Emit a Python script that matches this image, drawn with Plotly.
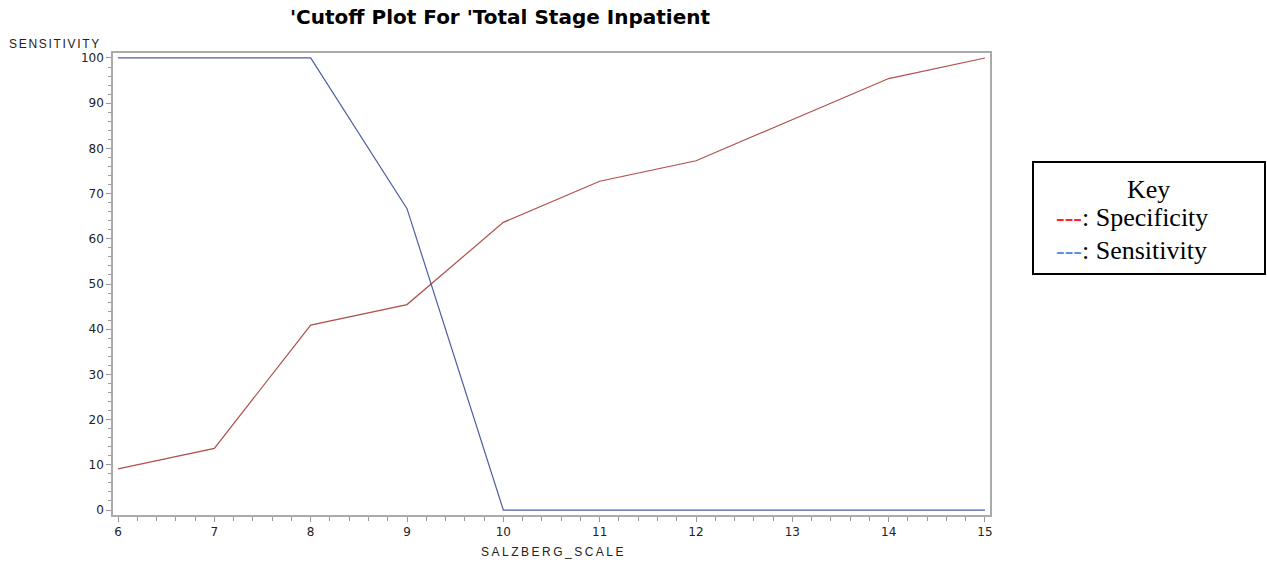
import plotly.graph_objects as go

cutoffs = [6, 7, 8, 9, 10, 11, 12, 13, 14, 15]
specificity = [9.09, 13.64, 40.91, 45.45, 63.64, 72.73, 77.27, 86.36, 95.45, 100.0]
sensitivity = [100, 100, 100, 66.67, 0, 0, 0, 0, 0, 0]
y_ticks = [0, 10, 20, 30, 40, 50, 60, 70, 80, 90, 100]

W, H = 1267, 571
L, R, T, B = 113, 990, 53, 515
pw, ph = R - L, B - T

def px(x):
    return (x - L) / pw

def py(y):
    return (B - y) / ph

fig = go.Figure()
fig.add_trace(go.Scatter(x=cutoffs, y=specificity, mode="lines",
                         line=dict(color="#B0504A", width=1.2), name="Specificity",
                         showlegend=False))
fig.add_trace(go.Scatter(x=cutoffs, y=sensitivity, mode="lines",
                         line=dict(color="#4E5EA2", width=1.2), name="Sensitivity",
                         showlegend=False))

axis_font = dict(family="DejaVu Sans", size=12, color="#222222")
fig.update_layout(
    width=W, height=H,
    margin=dict(l=L, r=W - R, t=T, b=H - B),
    paper_bgcolor="white", plot_bgcolor="white",
    xaxis=dict(range=[5.948, 15.052], tickvals=cutoffs, ticks="outside", ticklen=5,
               tickcolor="#999999", showline=True, linecolor="#aaaaaa", linewidth=1.5,
               mirror=True, showgrid=False, zeroline=False, tickfont=axis_font,
               minor=dict(dtick=0.2, ticks="outside", ticklen=4, tickcolor="#999999", showgrid=False)),
    yaxis=dict(range=[-1.1, 101.1], tickvals=y_ticks, ticks="outside", ticklen=5,
               tickcolor="#999999", showline=True, linecolor="#aaaaaa", linewidth=1.5,
               mirror=True, showgrid=False, zeroline=False, tickfont=axis_font,
               minor=dict(dtick=2, ticks="outside", ticklen=3, tickcolor="#999999", showgrid=False)),
    showlegend=False,
)

annos = [
    dict(text="<b>'Cutoff Plot For 'Total Stage Inpatient</b>", x=px(500), y=py(17),
         font=dict(family="DejaVu Sans", size=20, color="black")),
    dict(text="<span style='letter-spacing:1.7px'>SENSITIVITY</span>", x=px(103), y=py(44), xanchor="right",
         font=dict(family="Liberation Sans, Arial", size=12, color="#222222")),
    dict(text="<span style='letter-spacing:2.5px'>SALZBERG_SCALE</span>", x=px(553), y=py(552),
         font=dict(family="Liberation Sans, Arial", size=12, color="#222222")),
    dict(text="Key", x=px(1148), y=py(189),
         font=dict(family="Liberation Serif, Times New Roman", size=26, color="black")),
    dict(text="<span style='color:#FF2020'>---</span>: Specificity", x=px(1054), y=py(218),
         xanchor="left", font=dict(family="Liberation Serif, Times New Roman", size=26, color="black")),
    dict(text="<span style='color:#5B8FE0'>---</span>: Sensitivity", x=px(1054), y=py(250),
         xanchor="left", font=dict(family="Liberation Serif, Times New Roman", size=26, color="black")),
]
for a in annos:
    a.setdefault("xanchor", "center")
    fig.add_annotation(xref="paper", yref="paper", yanchor="middle", showarrow=False, **a)

fig.add_shape(type="rect", xref="paper", yref="paper",
              x0=px(1033), x1=px(1265), y0=py(274), y1=py(162),
              line=dict(color="black", width=2), fillcolor="rgba(0,0,0,0)")

fig.write_html("out.html")
